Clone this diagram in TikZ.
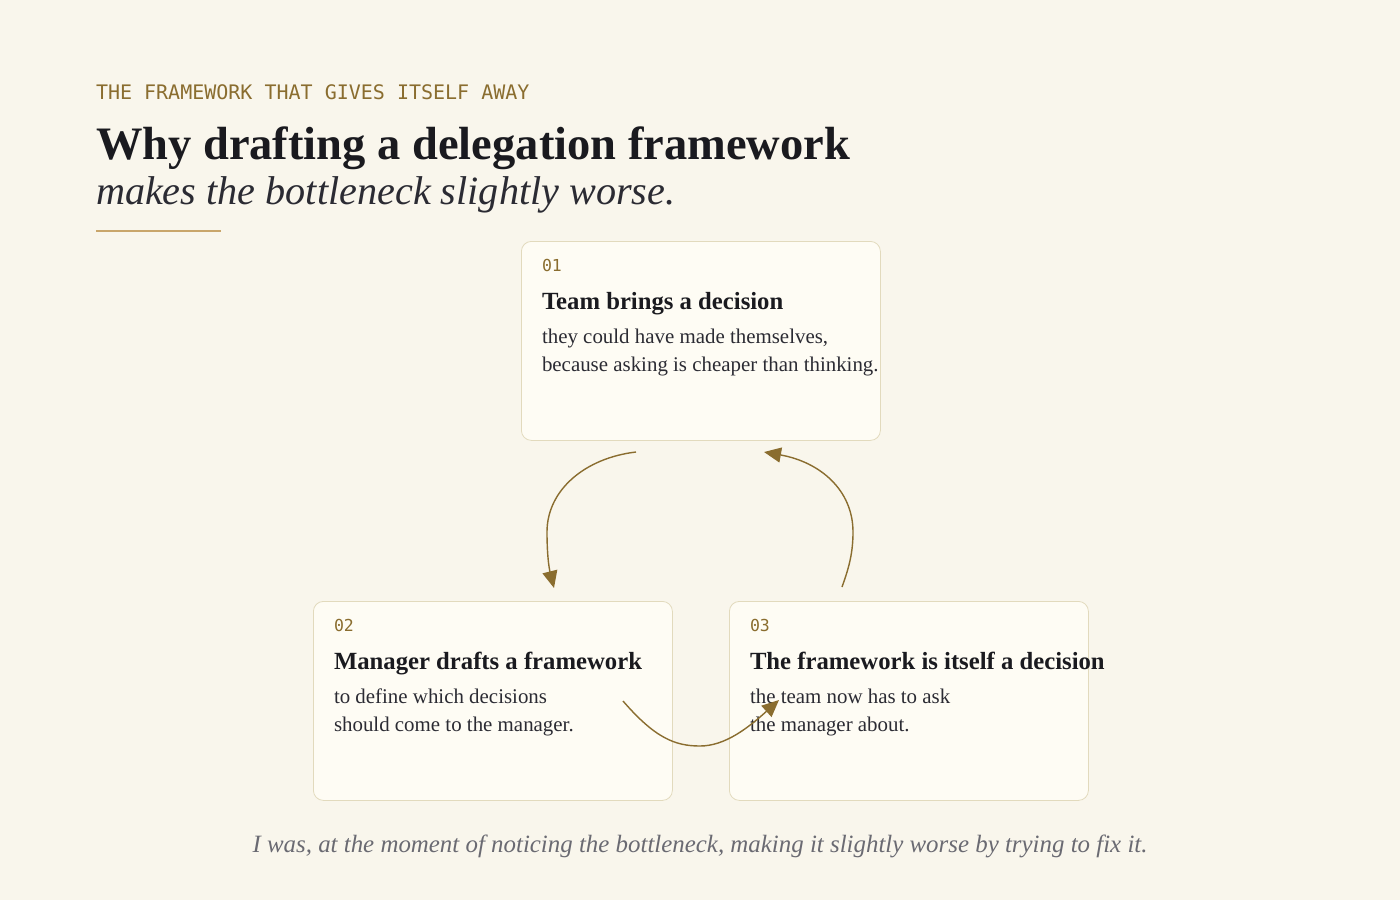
\documentclass[tikz,border=0pt]{standalone}
\usepackage{fontspec}
\setmainfont{Liberation Serif}
\setmonofont{DejaVu Sans Mono}
\usetikzlibrary{arrows.meta}
\definecolor{bg}{HTML}{F9F6EC}
\definecolor{cardfill}{HTML}{FEFCF4}
\definecolor{cardline}{HTML}{E2DABD}
\definecolor{gold}{HTML}{8A6D2F}
\definecolor{rulecol}{HTML}{C9A66B}
\definecolor{ink}{HTML}{1A1A1F}
\definecolor{body}{HTML}{2B2B33}
\definecolor{quote}{HTML}{6A6A72}
\begin{document}
\begin{tikzpicture}[x=1pt,y=-1pt,
  txt/.style={anchor=base west, inner sep=0pt, outer sep=0pt},
  eyebrow/.style={txt, text=gold, font=\ttfamily\fontsize{20}{24}\selectfont},
  num/.style={txt, text=gold, font=\ttfamily\fontsize{16.5}{20}\selectfont},
  ctitle/.style={txt, text=ink, font=\bfseries\fontsize{24.7}{28}\selectfont},
  cbody/.style={txt, text=body, font=\fontsize{20.9}{26}\selectfont},
  card/.style={draw=cardline, fill=cardfill, rounded corners=10pt, line width=0.8pt,
    minimum width=359pt, minimum height=199pt, inner sep=0pt, anchor=north west},
  arr/.style={draw=gold, line width=1.4pt, -{Triangle[length=17pt,width=15pt]}}
]
\useasboundingbox[fill=bg] (0,0) rectangle (1400,900);

\node[eyebrow] (eb) at (96,99) {THE FRAMEWORK THAT GIVES ITSELF AWAY};
\node[txt, text=ink, font=\bfseries\fontsize{46.5}{50}\selectfont] (t1) at (96,159) {Why drafting a delegation framework};
\node[txt, text=body, font=\itshape\fontsize{40.2}{44}\selectfont] (t2) at (96,204) {makes the bottleneck slightly worse.};
\draw[rulecol, line width=1.8pt] (96,231) -- (221,231);

\node[card] (c1) at (521,241) {};
\node[card] (c2) at (313,601) {};
\node[card] (c3) at (729,601) {};

\node[num] (n1) at (542,271) {01};
\node[ctitle] (h1) at (542,309) {Team brings a decision};
\node[cbody] (b1a) at (542,343) {they could have made themselves,};
\node[cbody] (b1b) at (542,371) {because asking is cheaper than thinking.};

\node[num] (n2) at (334,631) {02};
\node[ctitle] (h2) at (334,669) {Manager drafts a framework};
\node[cbody] (b2a) at (334,703) {to define which decisions};
\node[cbody] (b2b) at (334,731) {should come to the manager.};

\node[num] (n3) at (750,631) {03};
\node[ctitle] (h3) at (750,669) {The framework is itself a decision};
\node[cbody] (b3a) at (750,703) {the team now has to ask};
\node[cbody] (b3b) at (750,731) {the manager about.};

\coordinate (a1s) at (636,452);
\coordinate (a1m) at (547,532);
\coordinate (a1e) at (554,588);
\coordinate (a2s) at (842,587);
\coordinate (a2m) at (853,532);
\coordinate (a2e) at (764,452);
\coordinate (a3s) at (623,701);
\coordinate (a3m) at (700,746);
\coordinate (a3e) at (779,700);

\draw[arr] (a1s) .. controls (585,458) and (547,490) .. (a1m) .. controls (547,560) and (550,572) .. (a1e);
\draw[arr] (a2s) .. controls (848,570) and (853,555) .. (a2m) .. controls (853,490) and (820,462) .. (a2e);
\draw[arr] (a3s) .. controls (655,738) and (675,746) .. (a3m) .. controls (725,746) and (748,728) .. (a3e);

\node[anchor=base, inner sep=0pt, text=quote, font=\itshape\fontsize{24.9}{28}\selectfont] (q) at (700,852) {I was, at the moment of noticing the bottleneck, making it slightly worse by trying to fix it.};
\end{tikzpicture}
\end{document}
